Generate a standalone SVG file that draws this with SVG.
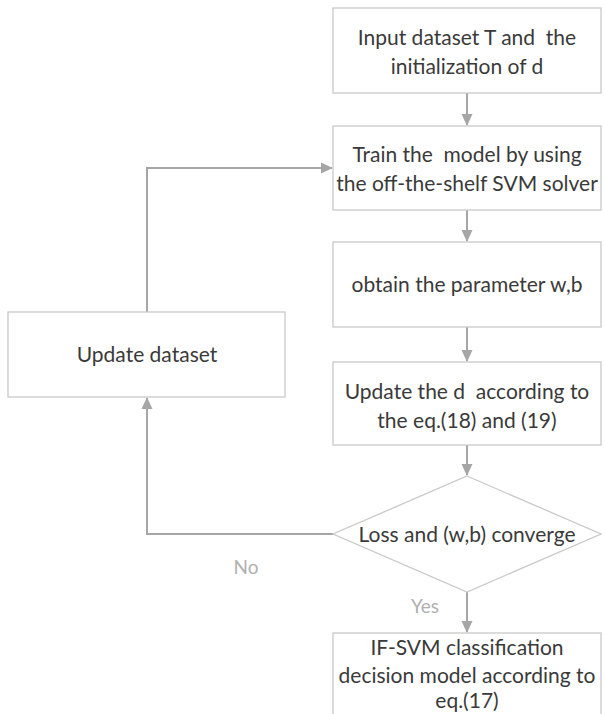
<svg xmlns="http://www.w3.org/2000/svg" width="605" height="714" viewBox="0 0 605 714">
<style>
.box{fill:#fff;stroke:#c9c9c9;stroke-width:1.3}
.t{font-family:Lato,"Open Sans",sans-serif;font-size:21px;fill:#3a3a3a;text-anchor:middle;white-space:pre}
.lbl{font-family:Lato,"Open Sans",sans-serif;font-size:19px;fill:#b0b0b0;text-anchor:middle}
.c{fill:none;stroke:#a6a6a6;stroke-width:2}
</style>
<defs>
<marker id="ah" markerWidth="12" markerHeight="12" refX="11" refY="6" orient="auto" markerUnits="userSpaceOnUse" viewBox="0 0 12 12">
<path d="M0,0.5 L12,6 L0,11.5 z" fill="#a6a6a6"/>
</marker>
</defs>
<rect width="605" height="714" fill="#fff"/>
<g id="connectors">
<line class="c" x1="467" y1="93" x2="467" y2="125" marker-end="url(#ah)"/>
<line class="c" x1="467" y1="210" x2="467" y2="241" marker-end="url(#ah)"/>
<line class="c" x1="467" y1="327" x2="467" y2="361" marker-end="url(#ah)"/>
<line class="c" x1="467" y1="445" x2="467" y2="475" marker-end="url(#ah)"/>
<line class="c" x1="467" y1="592" x2="467" y2="632" marker-end="url(#ah)"/>
<polyline class="c" points="333,534 147,534 147,398" marker-end="url(#ah)"/>
<polyline class="c" points="147,312 147,168 332,168" marker-end="url(#ah)"/>
<text class="lbl" x="246" y="574">No</text>
<text class="lbl" x="425" y="613">Yes</text>
</g>
<g id="n1">
<rect class="box" x="333" y="8" width="268" height="85"/>
<text class="t" x="467" y="45" xml:space="preserve">Input dataset T and  the</text>
<text class="t" x="467" y="74">initialization of d</text>
</g>
<g id="n2">
<rect class="box" x="333" y="126" width="268" height="84"/>
<text class="t" x="467" y="162" xml:space="preserve">Train the  model by using</text>
<text class="t" x="467" y="191">the off-the-shelf SVM solver</text>
</g>
<g id="n3">
<rect class="box" x="333" y="242" width="268" height="85"/>
<text class="t" x="467" y="292">obtain the parameter w,b</text>
</g>
<g id="n4">
<rect class="box" x="333" y="362" width="268" height="83"/>
<text class="t" x="467" y="399" xml:space="preserve">Update the d  according to</text>
<text class="t" x="467" y="428">the eq.(18) and (19)</text>
</g>
<g id="n5">
<polygon class="box" points="467,476 601,534 467,592 333,534"/>
<text class="t" x="467" y="542">Loss and (w,b) converge</text>
</g>
<g id="n6">
<rect class="box" x="333" y="633" width="268" height="90"/>
<text class="t" x="467" y="655">IF-SVM classification</text>
<text class="t" x="467" y="683">decision model according to</text>
<text class="t" x="467" y="708">eq.(17)</text>
</g>
<g id="n7">
<rect class="box" x="8" y="312" width="277" height="85"/>
<text class="t" x="147" y="362">Update dataset</text>
</g>
</svg>
